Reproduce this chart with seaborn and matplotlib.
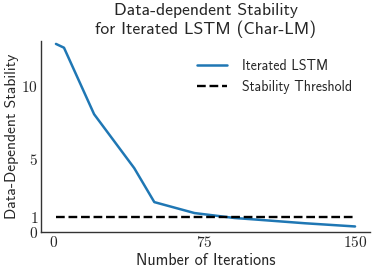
import numpy as np
import pandas as pd
import matplotlib
matplotlib.use("Agg")
import matplotlib.pyplot as plt
import seaborn as sns

# Data
iterations = [1, 5, 20, 40, 50, 70, 90, 100, 125, 150]
stability = [12.9, 12.64, 8.08, 4.38, 2.05, 1.30, 0.96, 0.86, 0.60, 0.38]
threshold = 1.0

sns.set_style("white")
plt.rcParams['font.family'] = ['cmss10', 'DejaVu Sans']
plt.rcParams['axes.unicode_minus'] = False
plt.rcParams['axes.formatter.use_mathtext'] = True

df = pd.DataFrame({'iterations': iterations, 'stability': stability})

fig, ax = plt.subplots(figsize=(3.74, 2.72), dpi=100)
sns.lineplot(data=df, x='iterations', y='stability', ax=ax,
             color='#1f77b4', linewidth=1.8, label='Iterated LSTM')
ax.plot([iterations[0], iterations[-1]], [threshold, threshold],
        color='black', linestyle='--', linewidth=1.7, label='Stability Threshold')

ax.set_ylim(0, 13.1)
ax.set_xticks([0, 75, 150])
ax.set_yticks([0, 1, 5, 10])
for lab in ax.get_xticklabels() + ax.get_yticklabels():
    lab.set_fontfamily(['cmr10', 'DejaVu Serif'])
    lab.set_fontsize(11)
ax.tick_params(length=0, pad=2)

ax.set_title('Data-dependent Stability\nfor Iterated LSTM (Char-LM)',
             fontsize=12.7, linespacing=1.2, pad=5)
ax.set_xlabel('Number of Iterations', fontsize=11.6, labelpad=2)
ax.set_ylabel('Data-Dependent Stability', fontsize=11.2, labelpad=2)
ax.legend(loc='upper right', frameon=False, fontsize=10, handlelength=2.2,
          handletextpad=1.1, bbox_to_anchor=(0.985, 0.97))

sns.despine(ax=ax)
for s in ['left', 'bottom']:
    ax.spines[s].set_color('#333333')
    ax.spines[s].set_linewidth(1.0)

fig.subplots_adjust(left=41/374, right=370/374, top=1 - 41/272, bottom=1 - 232/272)
fig.savefig('out.png', dpi=100)
